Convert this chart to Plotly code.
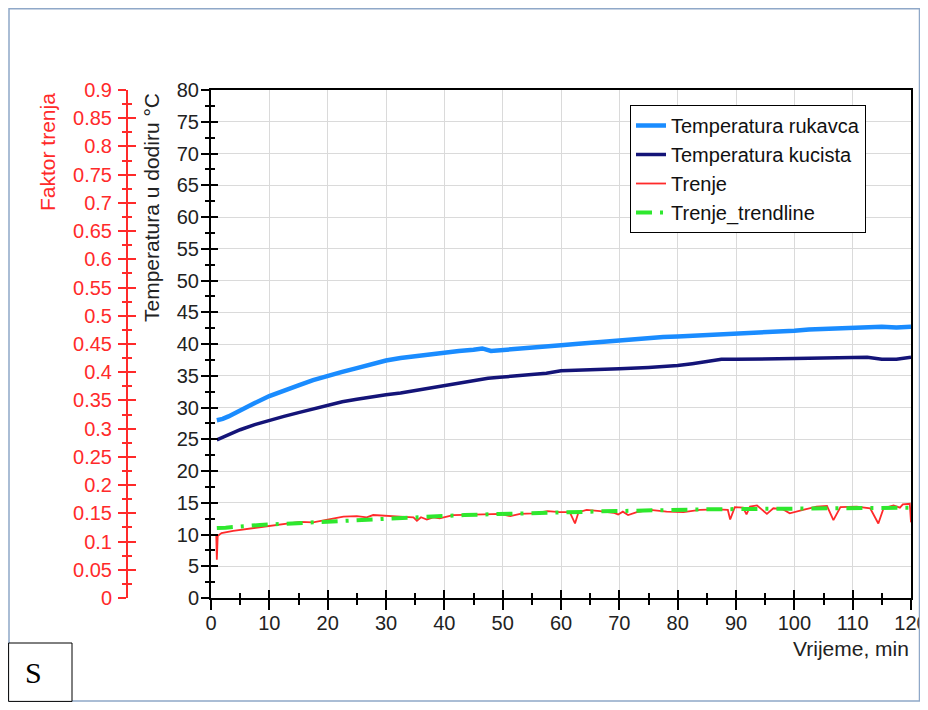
import plotly.graph_objects as go

# ---------------- data ----------------
rukavca_x = [1, 2, 3, 4, 5, 6, 7.5, 10, 12.5, 15, 17.5, 20, 22.5, 25, 27.5, 30, 32.5, 35, 37.5, 40,
             42.5, 45, 46.5, 48, 49.5, 52, 55, 57.5, 60, 62.5, 65, 67.5, 70, 72.5, 75, 77.5, 80,
             82.5, 85, 87.5, 90, 92.5, 95, 97.5, 100, 102.5, 105, 107.5, 110, 112.5, 115, 117.5, 120]
rukavca_y = [28.0, 28.2, 28.6, 29.1, 29.6, 30.0, 30.7, 31.8, 32.7, 33.5, 34.3, 35.0, 35.6, 36.2, 36.8,
             37.4, 37.8, 38.1, 38.4, 38.6, 38.9, 39.1, 39.3, 38.9, 39.0, 39.2, 39.3, 39.5, 39.8, 40.0,
             40.2, 40.4, 40.6, 40.7, 40.9, 41.1, 41.2, 41.3, 41.4, 41.5, 41.7, 41.8, 41.9, 42.0, 42.1,
             42.3, 42.4, 42.4, 42.6, 42.6, 42.7, 42.6, 42.7]

kucista_x = [1, 2.5, 5, 7.5, 10, 12.5, 15, 17.5, 20, 22.5, 25, 27.5, 30, 32.5, 35, 37.5, 40, 42.5,
             45, 47.5, 50, 52.5, 55, 57.5, 60, 65, 70, 75, 80, 82.5, 85, 87.5, 90, 95, 100, 105,
             110, 112.5, 115, 117.5, 120]
kucista_y = [24.9, 25.5, 26.5, 27.3, 28.0, 28.6, 29.2, 29.8, 30.4, 30.9, 31.3, 31.7, 32.0, 32.3,
             32.7, 33.1, 33.5, 33.9, 34.3, 34.6, 34.8, 35.0, 35.2, 35.4, 35.8, 35.9, 36.1, 36.3,
             36.6, 36.9, 37.2, 37.6, 37.6, 37.6, 37.7, 37.8, 37.8, 37.9, 37.6, 37.6, 37.9]

trenje_x = [0.9, 1.0, 1.15, 1.8, 3.8, 6.7, 9.5, 12.4, 15.3, 17.5, 19.8, 21, 22.7, 25, 26.7, 27.8,
            30.1, 32.4, 34.7, 35.3, 36, 37, 38.1, 39.2, 41.5, 43.8, 46.7, 49.5, 51.3, 53, 55.3,
            57.7, 59.8, 61.5, 62.4, 63, 64.4, 66.7, 69, 69.8, 70.6, 71.5, 73, 75.3, 78.1, 81,
            83.8, 86.7, 88.6, 89, 89.8, 91.2, 91.8, 92.4, 93.6, 95.3, 96.4, 98.1, 99.2, 101.5,
            103.8, 105.6, 106.7, 107.9, 110.7, 113, 114.4, 115.3, 117, 118.1, 118.6, 119.8, 120]
trenje_y = [0.112, 0.068, 0.110, 0.115, 0.119, 0.123, 0.127, 0.132, 0.135, 0.134, 0.138, 0.141,
            0.144, 0.145, 0.143, 0.147, 0.145, 0.144, 0.143, 0.137, 0.143, 0.139, 0.143, 0.141,
            0.147, 0.148, 0.148, 0.149, 0.145, 0.149, 0.150, 0.154, 0.152, 0.152, 0.132, 0.152,
            0.156, 0.154, 0.151, 0.148, 0.153, 0.147, 0.152, 0.156, 0.153, 0.152, 0.156, 0.157,
            0.156, 0.139, 0.161, 0.160, 0.148, 0.162, 0.164, 0.149, 0.159, 0.157, 0.150, 0.156,
            0.162, 0.163, 0.138, 0.161, 0.162, 0.159, 0.132, 0.159, 0.164, 0.160, 0.166, 0.167, 0.134]

trend_x = [1, 2.5, 8.4, 14, 20, 25.5, 31.5, 37.4, 43.4, 49.3, 55.3, 61, 66.9, 72.8, 78.8, 84.7,
           90.6, 96.6, 102.6, 108.4, 114.4, 120]
trend_y = [0.1240, 0.1246, 0.1294, 0.1323, 0.1344, 0.1382, 0.1411, 0.1441, 0.1470, 0.1488, 0.1512,
           0.1518, 0.1535, 0.1541, 0.1559, 0.1571, 0.1577, 0.1585, 0.1589, 0.1592, 0.1595, 0.1600]

x_ticks = list(range(0, 121, 10))
temp_ticks = list(range(0, 81, 5))
fric_tickvals = [i * 0.05 for i in range(19)]
fric_ticktext = ["0", "0.05", "0.1", "0.15", "0.2", "0.25", "0.3", "0.35", "0.4", "0.45",
                 "0.5", "0.55", "0.6", "0.65", "0.7", "0.75", "0.8", "0.85", "0.9"]

# ---------------- geometry helpers (screen pixel -> paper) ----------------
# the page body has an 8px margin: the figure is shifted by 8px and kept
# small enough that the page does not overflow the 928x710 window
OFF = 8
W, H = 928 - OFF, 710 - 2 * OFF
ML, MR, MT = 12, 17, 82
PH = 508
MB = H - MT - PH
PW = W - ML - MR


def px(p):
    return (p - OFF - ML) / PW


def py(p):
    return (H - MB - (p - OFF)) / PH


FONT = "Liberation Sans, Arial, sans-serif"
RED = "#ff2a2a"
XD0 = px(211)
RED_POS = px(127)

fig = go.Figure()
fig.add_trace(go.Scatter(x=rukavca_x, y=rukavca_y, mode="lines", name="Temperatura rukavca",
                         line=dict(color="#1a8cff", width=4.5), xaxis="x", yaxis="y"))
fig.add_trace(go.Scatter(x=kucista_x, y=kucista_y, mode="lines", name="Temperatura kucista",
                         line=dict(color="#141478", width=3.5), xaxis="x", yaxis="y"))
fig.add_trace(go.Scatter(x=trenje_x, y=trenje_y, mode="lines", name="Trenje",
                         line=dict(color=RED, width=1.8), xaxis="x", yaxis="y2"))
fig.add_trace(go.Scatter(x=trend_x, y=trend_y, mode="lines", name="Trenje_trendline",
                         line=dict(color="#2ee82e", width=4, dash="16px,8px,3px,8px"),
                         xaxis="x", yaxis="y2"))
# empty traces so that the overlay tick axes are drawn
for xa, ya in [("x2", "y"), ("x", "y3"), ("x", "y4")]:
    fig.add_trace(go.Scatter(x=[], y=[], xaxis=xa, yaxis=ya, showlegend=False, hoverinfo="skip"))

tickfont = dict(family=FONT, size=20, color="#222222")
redfont = dict(family=FONT, size=20, color=RED)

fig.update_layout(
    width=W, height=H,
    margin=dict(l=ML, r=MR, t=MT, b=MB, autoexpand=False),
    paper_bgcolor="white", plot_bgcolor="white",
    font=dict(family=FONT, size=20, color="#222222"),
    xaxis=dict(domain=[XD0, 1], range=[0, 120], tickvals=x_ticks, showgrid=True,
               gridcolor="#dadada", gridwidth=1, zeroline=False, automargin=False,
               showline=True, linecolor="black", linewidth=2, mirror=True,
               ticks="outside", ticklen=10, tickwidth=2, tickcolor="black",
               minor=dict(dtick=5, ticks="outside", ticklen=5, tickwidth=1.5, tickcolor="black", showgrid=False),
               tickfont=tickfont, anchor="y", ticklabelstandoff=-4),
    xaxis2=dict(domain=[XD0, 1], range=[0, 120], overlaying="x", anchor="y", side="bottom",
                tickvals=x_ticks, showgrid=False, zeroline=False, showline=False, automargin=False,
                ticks="inside", ticklen=8, tickwidth=2, tickcolor="black", showticklabels=False,
                minor=dict(dtick=5, ticks="inside", ticklen=5, tickwidth=1.5, tickcolor="black", showgrid=False)),
    yaxis=dict(domain=[0, 1], range=[0, 80], tickvals=temp_ticks, showgrid=True,
               gridcolor="#dadada", gridwidth=1, zeroline=False, automargin=False,
               showline=True, linecolor="black", linewidth=2, mirror=True,
               ticks="outside", ticklen=8, tickwidth=2, tickcolor="black",
               minor=dict(dtick=2.5, ticks="outside", ticklen=4, tickwidth=1.5, tickcolor="black", showgrid=False),
               tickfont=tickfont, anchor="x", ticklabelstandoff=-2),
    yaxis3=dict(range=[0, 80], overlaying="y", anchor="x", side="left", tickvals=temp_ticks,
                showgrid=False, zeroline=False, showline=False, showticklabels=False, automargin=False,
                ticks="inside", ticklen=7, tickwidth=2, tickcolor="black",
                minor=dict(dtick=2.5, ticks="inside", ticklen=4, tickwidth=1.5, tickcolor="black", showgrid=False)),
    yaxis2=dict(range=[0, 0.9], overlaying="y", anchor="free", position=RED_POS, side="left",
                tickvals=fric_tickvals, ticktext=fric_ticktext, showgrid=False, zeroline=False,
                showline=True, linecolor=RED, linewidth=2, automargin=False,
                ticks="outside", ticklen=8, tickwidth=2, tickcolor=RED,
                minor=dict(dtick=0.025, ticks="outside", ticklen=4, tickwidth=1.5, tickcolor=RED, showgrid=False),
                tickfont=redfont, ticklabelstandoff=2),
    yaxis4=dict(range=[0, 0.9], overlaying="y", anchor="free", position=RED_POS, side="left",
                tickvals=fric_tickvals, showgrid=False, zeroline=False, showline=False, automargin=False,
                showticklabels=False, ticks="inside", ticklen=8, tickwidth=2, tickcolor=RED,
                minor=dict(dtick=0.025, ticks="inside", ticklen=4, tickwidth=1.5, tickcolor=RED, showgrid=False)),
    legend=dict(x=px(630), y=py(105), xanchor="left", yanchor="top",
                bgcolor="white", bordercolor="black", borderwidth=1,
                entrywidth=220, entrywidthmode="pixels",
                font=dict(family=FONT, size=20, color="#111111"), tracegroupgap=0),
    showlegend=True,
)

fig.add_shape(type="rect", xref="paper", yref="paper", x0=px(9), x1=px(919.5), y0=py(701), y1=py(8.7),
              line=dict(color="#8fa8c8", width=1.5), fillcolor="rgba(0,0,0,0)", layer="above")
fig.add_shape(type="rect", xref="paper", yref="paper", x0=px(8.6), x1=px(72), y0=py(701.4), y1=py(643),
              line=dict(color="black", width=1), fillcolor="white", layer="above")

fig.add_annotation(text="S", xref="paper", yref="paper", x=px(33), y=py(672), showarrow=False,
                   xanchor="center", yanchor="middle",
                   font=dict(family="Liberation Serif, Times New Roman, serif", size=30, color="black"))
fig.add_annotation(text="Vrijeme, min", xref="paper", yref="paper", x=px(911), y=py(648),
                   xanchor="right", yanchor="middle", showarrow=False,
                   font=dict(family=FONT, size=21, color="#222222"))
fig.add_annotation(text="Faktor trenja", xref="paper", yref="paper", x=px(47), y=py(152),
                   xanchor="center", yanchor="middle",
                   textangle=-90, showarrow=False, font=dict(family=FONT, size=21, color=RED))
fig.add_annotation(text="Temperatura u dodiru °C", xref="paper", yref="paper", x=px(151), y=py(208),
                   xanchor="center", yanchor="middle",
                   textangle=-90, showarrow=False, font=dict(family=FONT, size=21, color="#222222"))

fig.write_html("out.html")
